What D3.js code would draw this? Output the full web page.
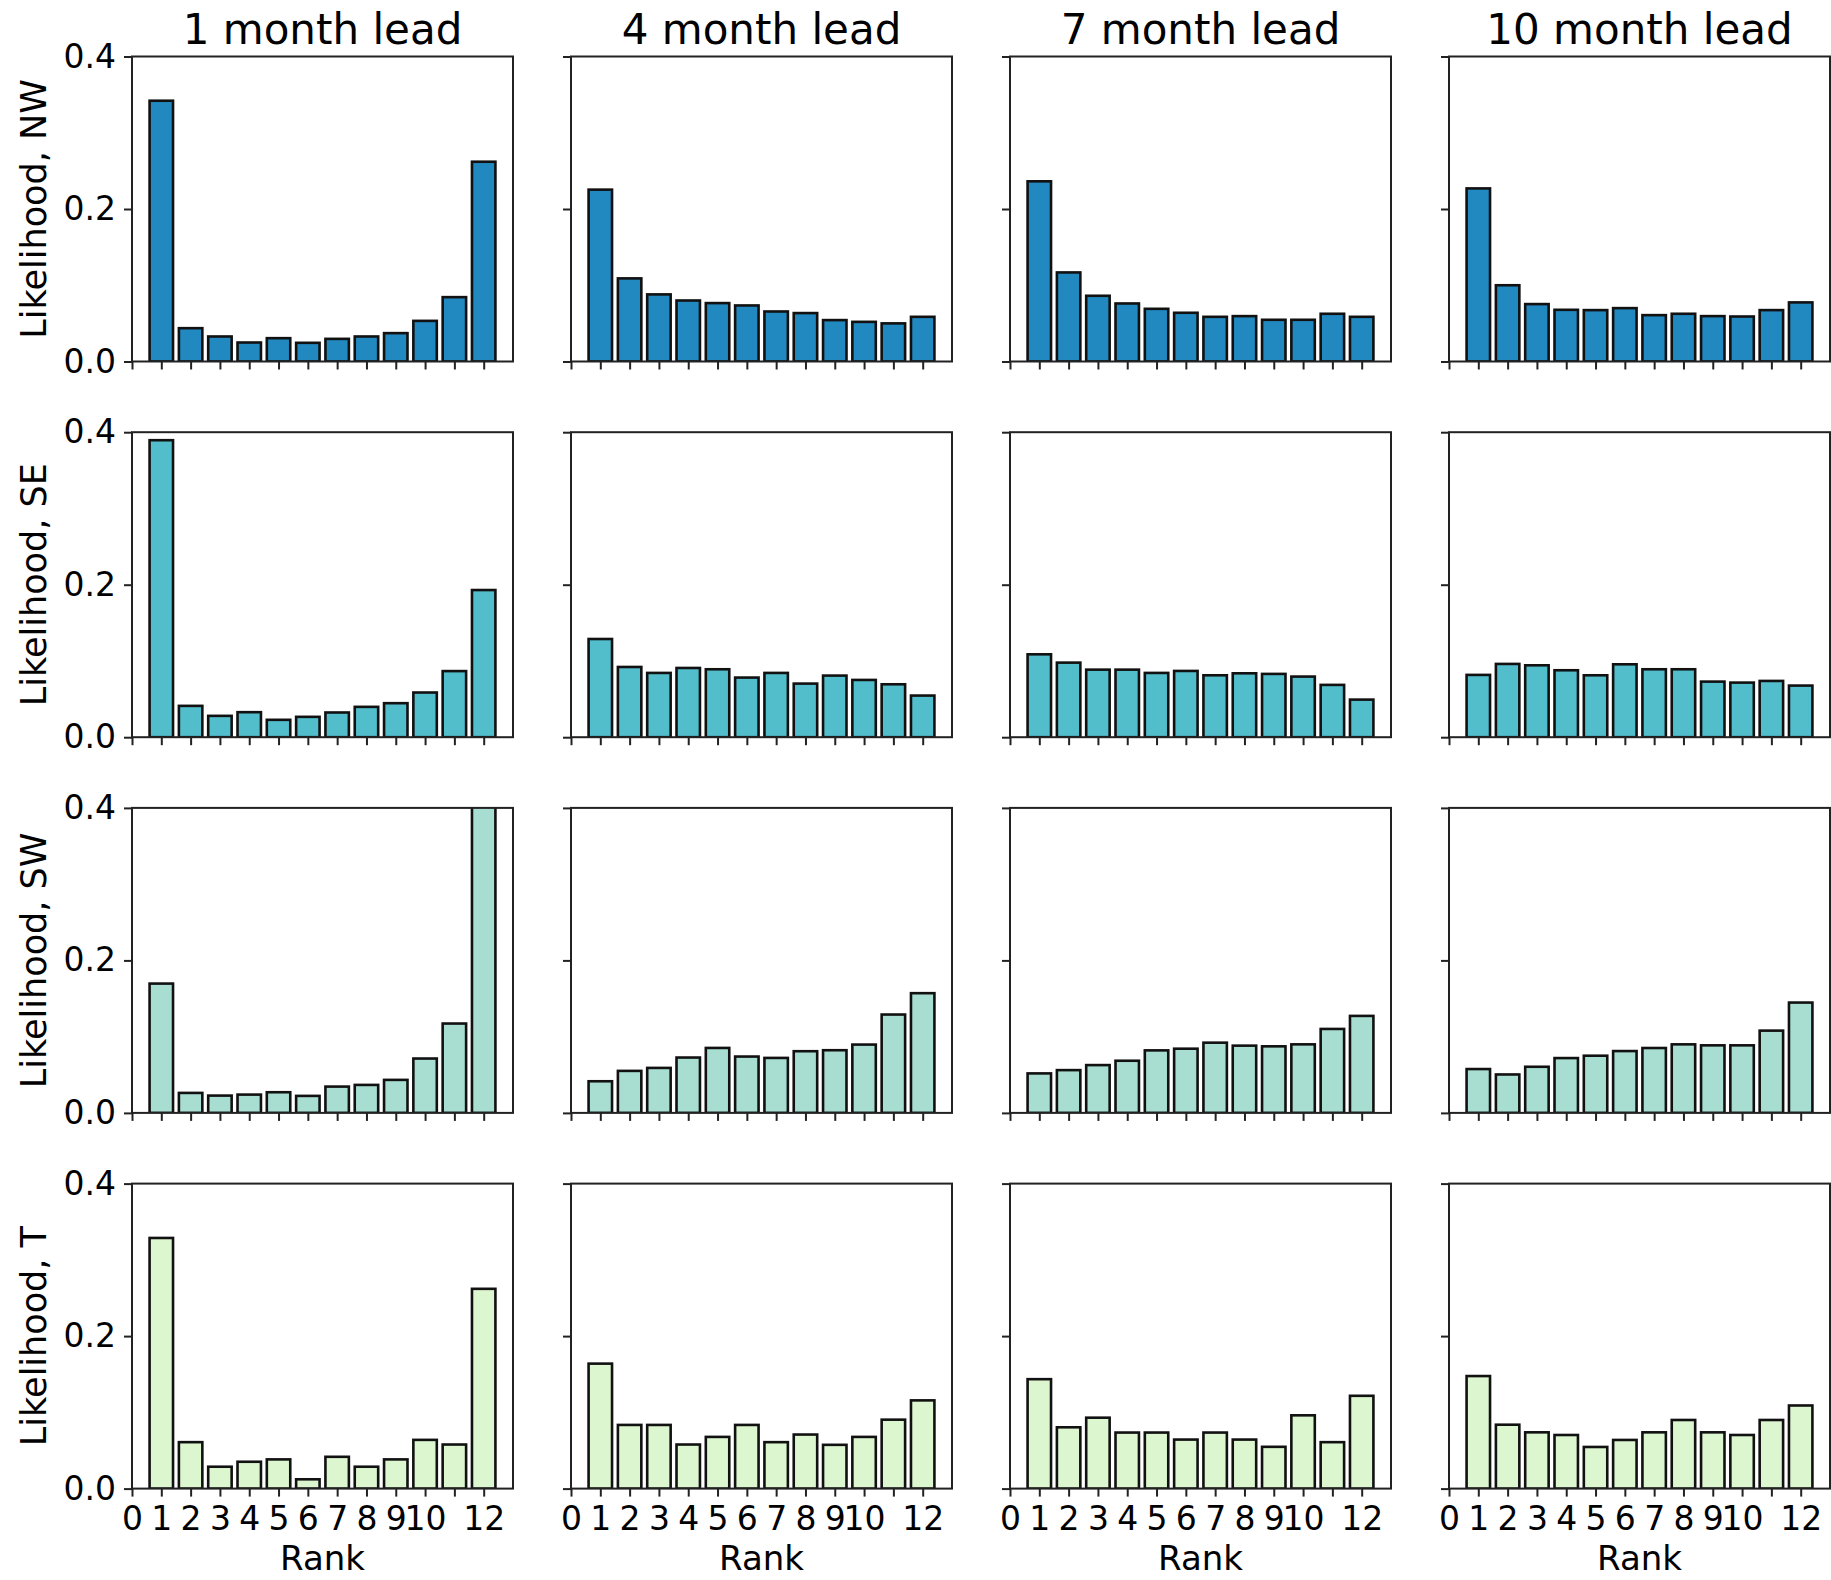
<!DOCTYPE html>
<html>
<head>
<meta charset="utf-8">
<script src="https://cdn.jsdelivr.net/npm/d3@7"></script>
<style>
  html, body { margin: 0; padding: 0; background: #fff; }
  svg { display: block; font-family: "DejaVu Sans", sans-serif; }
</style>
</head>
<body>
<svg id="chart" width="1831" height="1580"></svg>
<script>
// ---- data ----
const leads = ["1 month lead", "4 month lead", "7 month lead", "10 month lead"];
const regions = ["NW", "SE", "SW", "T"];
const ranks = [1, 2, 3, 4, 5, 6, 7, 8, 9, 10, 11, 12];
const xTicks = [0, 1, 2, 3, 4, 5, 6, 7, 8, 9, 10, 11, 12];
const xTickLabels = ["0", "1", "2", "3", "4", "5", "6", "7", "8", "9", "10", "", "12"];
const yTicks = [0.0, 0.2, 0.4];
const yTickLabels = ["0.0", "0.2", "0.4"];
const regionColors = ["#2188c0", "#52bdcb", "#a8ded2", "#dcf6cf"];

// values per region, one list per lead (1, 4, 7, 10 months)
const nwValues = [
  [0.342, 0.0437, 0.0328, 0.0249, 0.0306, 0.0245, 0.0297, 0.0328, 0.0372, 0.0533, 0.0844, 0.262],
  [0.2254, 0.109, 0.088, 0.080, 0.0766, 0.0735, 0.0656, 0.0635, 0.0543, 0.052, 0.050, 0.0586],
  [0.2363, 0.1168, 0.0862, 0.0761, 0.0691, 0.0639, 0.0586, 0.0595, 0.0547, 0.0547, 0.0626, 0.0586],
  [0.227, 0.100, 0.0753, 0.0678, 0.0674, 0.070, 0.0608, 0.0626, 0.0595, 0.059, 0.0674, 0.0775]
];
const seValues = [
  [0.3895, 0.0411, 0.028, 0.0328, 0.0228, 0.0267, 0.0324, 0.0398, 0.0446, 0.0586, 0.0867, 0.193],
  [0.1288, 0.0921, 0.0843, 0.0908, 0.0891, 0.0782, 0.0843, 0.0703, 0.0808, 0.0751, 0.0694, 0.0546],
  [0.1087, 0.0978, 0.0886, 0.0886, 0.0843, 0.0869, 0.0812, 0.0838, 0.083, 0.0795, 0.0686, 0.0493],
  [0.0817, 0.0961, 0.0943, 0.0878, 0.0812, 0.0956, 0.0891, 0.0891, 0.0729, 0.0716, 0.0738, 0.0677]
];
const swValues = [
  [0.1696, 0.0262, 0.0227, 0.024, 0.0271, 0.0223, 0.0345, 0.0367, 0.0433, 0.0713, 0.1172, 0.43],
  [0.0415, 0.0551, 0.059, 0.0726, 0.0852, 0.0739, 0.0721, 0.0809, 0.0822, 0.0896, 0.129, 0.157],
  [0.0518, 0.0561, 0.0627, 0.0684, 0.082, 0.0842, 0.0921, 0.0882, 0.0873, 0.0899, 0.1101, 0.1272],
  [0.0575, 0.0504, 0.0605, 0.0719, 0.075, 0.0811, 0.0851, 0.0899, 0.0886, 0.0886, 0.1079, 0.1447]
];
const tValues = [
  [0.3287, 0.0609, 0.0287, 0.0352, 0.0383, 0.0122, 0.0417, 0.0287, 0.0383, 0.0639, 0.0578, 0.262],
  [0.1639, 0.0835, 0.0835, 0.0578, 0.0678, 0.0835, 0.0609, 0.0709, 0.0574, 0.0678, 0.0904, 0.1157],
  [0.1435, 0.0804, 0.093, 0.0735, 0.0735, 0.0643, 0.0735, 0.0643, 0.0548, 0.0961, 0.0609, 0.1217],
  [0.1476, 0.0838, 0.0738, 0.0703, 0.0546, 0.0638, 0.0738, 0.090, 0.0738, 0.0703, 0.090, 0.109]
];
const allValues = [nwValues, seValues, swValues, tValues];

// ---- layout ----
const colLeft = [132, 571, 1010, 1449];
const rowTop = [56.5, 432.2, 807.9, 1183.6];
const panelW = 381;
const panelH = 305;
const barWidth = 0.8;
const tickFont = 33;
const labelFont = 35;
const rankFont = 34;
const titleFont = 42;

const svg = d3.select("#chart");
const defs = svg.append("defs");

regions.forEach((reg, r) => {
  leads.forEach((lead, c) => {
    const x0 = colLeft[c], y0 = rowTop[r];
    const x = d3.scaleLinear().domain([0, 13]).range([x0, x0 + panelW]);
    const y = d3.scaleLinear().domain([0, 0.4]).range([y0 + panelH, y0]);
    const clipId = `clip-${r}-${c}`;
    defs.append("clipPath").attr("id", clipId)
      .append("rect").attr("x", x0).attr("y", y0).attr("width", panelW).attr("height", panelH);

    const g = svg.append("g");
    const vals = allValues[r][c];
    g.append("g").attr("clip-path", `url(#${clipId})`)
      .selectAll("rect").data(ranks).join("rect")
      .attr("x", d => x(d - barWidth / 2))
      .attr("width", d => x(d + barWidth / 2) - x(d - barWidth / 2))
      .attr("y", (d, i) => y(vals[i]))
      .attr("height", (d, i) => y(0) - y(vals[i]))
      .attr("fill", regionColors[r])
      .attr("stroke", "#111")
      .attr("stroke-width", 2.6);

    // x axis
    const xAxis = d3.axisBottom(x).tickValues(xTicks).tickSize(8).tickPadding(8)
      .tickFormat((d, i) => r === regions.length - 1 ? xTickLabels[i] : "");
    const gx = g.append("g").attr("transform", `translate(0,${y0 + panelH})`).call(xAxis);
    // y axis
    const yAxis = d3.axisLeft(y).tickValues(yTicks).tickSize(8).tickPadding(8)
      .tickFormat((d, i) => c === 0 ? yTickLabels[i] : "");
    const gy = g.append("g").attr("transform", `translate(${x0},0)`).call(yAxis);
    [gx, gy].forEach(ax => {
      ax.select(".domain").remove();
      ax.selectAll(".tick line").attr("stroke", "#222").attr("stroke-width", 2);
      ax.selectAll(".tick text").attr("fill", "#000").attr("font-size", tickFont)
        .attr("font-family", "DejaVu Sans");
    });
    gx.selectAll(".tick text").attr("dy", "0.76em");

    // frame (spines)
    g.append("rect").attr("x", x0).attr("y", y0).attr("width", panelW).attr("height", panelH)
      .attr("fill", "none").attr("stroke", "#222").attr("stroke-width", 2);

    if (r === 0) {
      g.append("text").attr("x", x0 + panelW / 2).attr("y", 44)
        .attr("text-anchor", "middle").attr("font-size", titleFont).attr("fill", "#000")
        .text(lead);
    }
    if (r === regions.length - 1) {
      g.append("text").attr("x", x0 + panelW / 2).attr("y", 1570)
        .attr("text-anchor", "middle").attr("font-size", rankFont).attr("fill", "#000")
        .text("Rank");
    }
    if (c === 0) {
      g.append("text")
        .attr("transform", `translate(46,${y0 + panelH / 2}) rotate(-90)`)
        .attr("text-anchor", "middle").attr("font-size", labelFont).attr("fill", "#000")
        .text(`Likelihood, ${reg}`);
    }
  });
});
</script>
</body>
</html>
